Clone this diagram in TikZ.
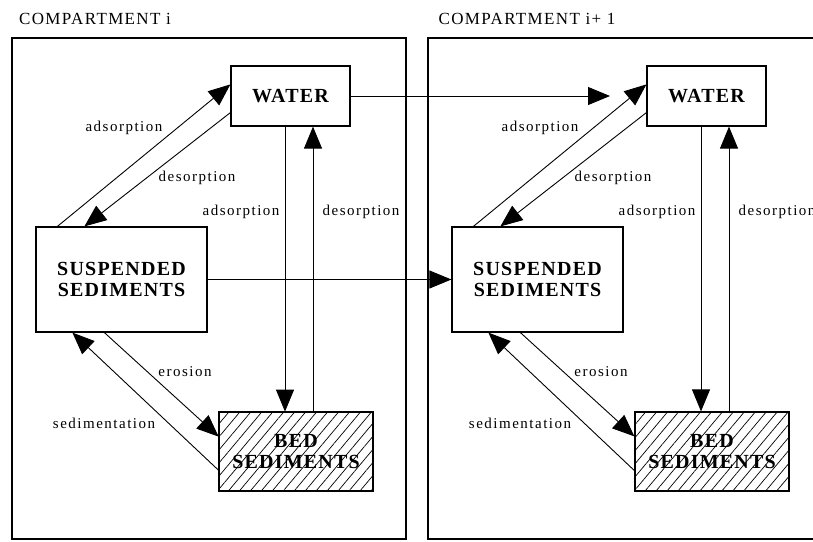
\documentclass[tikz,border=0pt]{standalone}
\usepackage{fontspec}
\setmainfont{Liberation Serif}
\newfontfamily\labelfont[LetterSpace=10]{Liberation Serif}
\newfontfamily\headfont[LetterSpace=8]{Liberation Serif}
\newfontfamily\poolfont[LetterSpace=6]{Liberation Serif}
\usetikzlibrary{arrows.meta,patterns.meta}

\begin{document}
\begin{tikzpicture}[x=1pt,y=-1pt]
            \tikzstyle{every node}+=[inner sep=0pt]
            \tikzstyle{pool}=[draw=black,line width=1.2pt,align=center,font={\poolfont\bfseries\fontsize{20}{21}\selectfont}]
            \tikzstyle{bedpool}=[pattern={Lines[angle=50,distance=8.4pt,line width=0.7pt]}]
            \tikzstyle{lab}=[font={\labelfont\fontsize{15}{17}\selectfont}]
            \tikzstyle{head}=[font={\headfont\fontsize{17}{19}\selectfont}]
            \tikzstyle{flow}=[black,line width=0.9pt,-{Triangle[length=22pt,width=18pt]}]
            \useasboundingbox (0,0) rectangle (813,541);
            \clip (0,0) rectangle (813,541);
            \draw [black,line width=1.2pt] (12,38) rectangle (406,539);
            \draw [black,line width=1.2pt] (428,38) rectangle (822,539);
            \node [head] (comp1) at (95,19) {COMPARTMENT i};
            \node [head] (comp2) at (527,19) {COMPARTMENT i+ 1};
            \node [pool,minimum width=119pt,minimum height=60pt] (wat1) at (290.5,96) {WATER};
            \node [pool,minimum width=171pt,minimum height=105pt] (sus1) at (121.5,279.5) {SUSPENDED\\SEDIMENTS};
            \node [pool,bedpool,minimum width=154pt,minimum height=79pt] (bed1) at (296,451.5) {BED\\SEDIMENTS};
            \node [pool,minimum width=119pt,minimum height=60pt] (wat2) at (706.5,96) {WATER};
            \node [pool,minimum width=171pt,minimum height=105pt] (sus2) at (537.5,279.5) {SUSPENDED\\SEDIMENTS};
            \node [pool,bedpool,minimum width=154pt,minimum height=79pt] (bed2) at (712,451.5) {BED\\SEDIMENTS};
            \coordinate (wend) at (610,96);
            \draw [flow] (wat1.east) -- (wend);
            \draw [flow] (sus1.east) -- (sus2.west);
            \draw [flow] ([xshift=22pt]sus1.north west) -- ([yshift=-19pt]wat1.north west);
            \draw [flow] ([yshift=14pt]wat1.south west) -- ([xshift=49pt]sus1.north west);
            \draw [flow] ([xshift=-5.5pt]wat1.south) -- ([xshift=-5.5pt]wat1.south |- bed1.north);
            \draw [flow] ([xshift=22.5pt]wat1.south |- bed1.north) -- ([xshift=22.5pt]wat1.south);
            \draw [flow] ([xshift=69pt]sus1.south west) -- ([yshift=-25pt]bed1.north west);
            \draw [flow] ([yshift=21pt]bed1.south west) -- ([xshift=37pt]sus1.south west);
            \draw [flow] ([xshift=22pt]sus2.north west) -- ([yshift=-19pt]wat2.north west);
            \draw [flow] ([yshift=14pt]wat2.south west) -- ([xshift=49pt]sus2.north west);
            \draw [flow] ([xshift=-5.5pt]wat2.south) -- ([xshift=-5.5pt]wat2.south |- bed2.north);
            \draw [flow] ([xshift=22.5pt]wat2.south |- bed2.north) -- ([xshift=22.5pt]wat2.south);
            \draw [flow] ([xshift=69pt]sus2.south west) -- ([yshift=-25pt]bed2.north west);
            \draw [flow] ([yshift=21pt]bed2.south west) -- ([xshift=37pt]sus2.south west);
            \node [lab] (ads1) at (124,128) {adsorption};
            \node [lab] (des1) at (197,178) {desorption};
            \node [lab] (adv1) at (241,212) {adsorption};
            \node [lab] (dev1) at (361,212) {desorption};
            \node [lab] (ero1) at (185,372) {erosion};
            \node [lab] (sed1) at (104,423) {sedimentation};
            \node [lab] (ads2) at (540,128) {adsorption};
            \node [lab] (des2) at (613,178) {desorption};
            \node [lab] (adv2) at (657,212) {adsorption};
            \node [lab] (dev2) at (777,212) {desorption};
            \node [lab] (ero2) at (601,372) {erosion};
            \node [lab] (sed2) at (520,423) {sedimentation};
        \end{tikzpicture}
\end{document}
